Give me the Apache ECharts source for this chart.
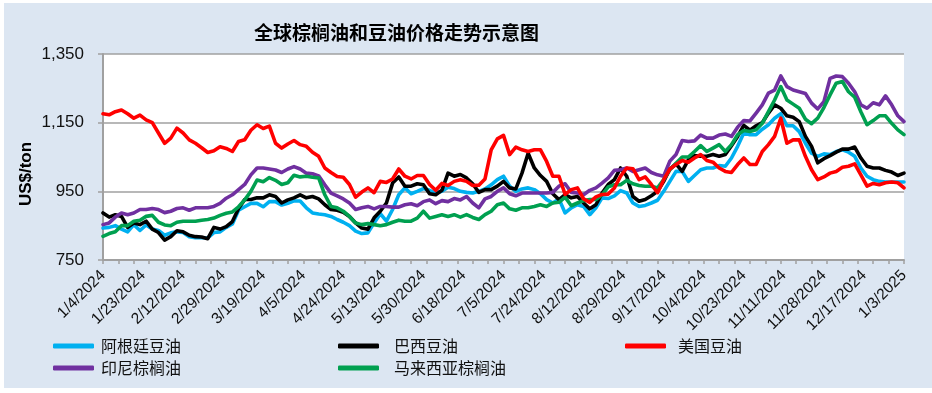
<!DOCTYPE html>
<html>
<head>
<meta charset="utf-8">
<script src="https://cdn.jsdelivr.net/npm/echarts@6/dist/echarts.min.js"></script>
<style>
html,body{margin:0;padding:0;background:#fff;}
#chart{width:932px;height:393px;}
</style>
</head>
<body>
<div id="chart"></div>
<script>
// x axis: business-day categories, labelled every 13th day
const tickLabels = ['1/4/2024','1/23/2024','2/12/2024','2/29/2024','3/19/2024','4/5/2024','4/24/2024','5/13/2024','5/30/2024','6/18/2024','7/5/2024','7/24/2024','8/12/2024','8/29/2024','9/17/2024','10/4/2024','10/23/2024','11/11/2024','11/28/2024','12/17/2024','1/3/2025'];
const dayCount = 261;      // business days shown on the axis
const sampleStep = 2;      // values below are read every 2nd business day

const yTicks = [750, 950, 1150, 1350];

const argentinaSoy = [843,845,850,840,832,853,836,852,840,836,822,829,832,830,818,815,815,814,830,832,845,855,895,905,915,915,905,920,920,910,915,922,922,902,887,884,
882,877,868,860,850,834,827,829,858,885,863,897,940,960,943,950,958,953,945,950,962,958,950,947,945,950,957,969,984,994,965,950,957,960,955,943,926,916,928,887,902,911,906,882,902,931,
929,937,952,945,916,906,909,916,924,950,979,1008,1008,979,996,1013,1018,1018,1025,1023,1047,1081,1120,1115,1115,1131,1144,1163,1176,1141,1141,1124,1090,1061,1052,1059,1057,1066,1071,1064,1052,1018,994,984,979,977,977,977,977];

const brazilSoy = [887,875,882,877,845,858,853,863,840,830,808,818,835,832,822,818,817,812,845,840,847,862,900,926,926,931,931,940,935,916,925,931,940,931,935,928,
911,897,895,889,877,858,843,840,873,892,916,974,992,965,965,972,969,943,940,953,1003,994,999,989,972,947,955,955,965,979,960,957,1003,1061,1018,996,979,943,926,940,931,935,916,899,911,945,
970,984,1018,994,935,921,926,937,950,979,1015,1030,1008,1042,1054,1052,1052,1057,1052,1057,1083,1110,1142,1128,1141,1150,1178,1202,1192,1170,1166,1153,1110,1081,1033,1045,1054,1064,1073,1073,1079,1047,1023,1018,1018,1011,1006,996,1003];

const usSoy = [1176,1173,1182,1187,1176,1163,1172,1158,1150,1120,1090,1105,1134,1120,1100,1090,1077,1063,1068,1080,1075,1066,1095,1100,1128,1144,1133,1140,1090,1076,1088,1098,1086,1081,1064,1052,
1018,1005,993,991,970,933,948,960,946,979,976,986,1015,994,986,996,996,970,953,973,967,979,984,979,967,968,986,1071,1103,1113,1057,1079,1071,1066,1071,1071,1037,994,994,941,955,960,928,918,934,941,
942,960,994,1018,1016,984,992,970,946,984,1015,1028,1040,1035,1047,1057,1040,1035,1018,1008,1005,1028,1047,1028,1028,1066,1086,1110,1163,1090,1100,1100,1052,1013,984,992,1003,1008,1020,1023,1030,998,965,973,969,975,977,975,960];

const indonesiaPalm = [853,858,875,887,882,887,897,897,900,897,888,892,900,902,895,902,902,902,906,915,930,940,955,970,998,1018,1018,1015,1012,1005,1015,1022,1015,1003,1001,995,
969,945,937,928,916,897,902,906,899,906,906,904,904,911,914,908,920,925,914,923,920,929,925,935,916,902,928,935,950,960,943,937,945,945,945,945,945,947,965,972,947,945,940,953,960,974,
989,1011,1013,1018,1008,1013,1018,1005,998,994,1038,1057,1098,1095,1097,1114,1105,1105,1114,1117,1110,1137,1156,1155,1178,1202,1236,1245,1286,1255,1245,1240,1235,1207,1190,1211,1279,1286,1284,1265,1240,1202,1192,1208,1202,1228,1202,1170,1153];

const malaysiaPalm = [819,827,832,850,850,863,866,877,880,860,852,850,860,863,863,863,866,868,872,880,886,890,905,925,950,983,978,990,982,970,975,997,992,994,991,989,
940,906,902,892,877,858,853,856,853,850,853,860,866,863,863,872,892,872,877,882,877,882,875,882,874,868,882,892,911,916,899,895,902,902,906,911,906,916,918,933,908,916,923,926,926,940,
963,969,969,982,972,967,965,965,960,984,1013,1032,1050,1050,1066,1083,1066,1076,1086,1066,1086,1115,1127,1124,1129,1148,1182,1216,1255,1216,1204,1192,1160,1147,1163,1194,1231,1265,1270,1240,1224,1182,1144,1156,1170,1170,1148,1129,1115];

const seriesNames = ['阿根廷豆油','巴西豆油','美国豆油','印尼棕榈油','马来西亚棕榈油'];
const seriesColors = ['#00b0f0','#000000','#ff0000','#7030a0','#00a050'];
const seriesValues = [argentinaSoy, brazilSoy, usSoy, indonesiaPalm, malaysiaPalm];

const categories = Array.from({length: dayCount}, (_, i) => String(i));
const toPairs = vals => vals.map((v, k) => [k * sampleStep, v]);

const drawOrder = [0, 1, 3, 4, 2];
const series = drawOrder.map(k => ({
  name: seriesNames[k],
  type: 'line',
  data: toPairs(seriesValues[k]),
  symbol: 'none',
  showSymbol: false,
  smooth: false,
  lineStyle: {color: seriesColors[k], width: 3.6, join: 'round', cap: 'round'},
  itemStyle: {color: seriesColors[k]},
  z: 2 + drawOrder.indexOf(k),
  animation: false
}));

const legendPos = [
  {left: 48, top: 333, pad: [0,0,0,2]},
  {left: 333, top: 333, pad: [0,0,9,10]},
  {left: 620, top: 333, pad: [0,0,0,7]},
  {left: 48, top: 355, pad: [6,0,0,2]},
  {left: 333, top: 355, pad: [0,0,0,10]}
];
const legends = seriesNames.map((n, k) => ({
  data: [n],
  left: legendPos[k].left,
  top: legendPos[k].top,
  orient: 'horizontal',
  icon: 'roundRect',
  itemWidth: 41,
  itemHeight: 5,
  selectedMode: false,
  textStyle: {fontFamily: '"Noto Sans CJK SC"', fontSize: 16, color: '#111', padding: legendPos[k].pad}
}));

const chart = echarts.init(document.getElementById('chart'), null, {renderer: 'canvas'});
chart.setOption({
  backgroundColor: '#dce6f2',
  animation: false,
  title: {
    text: '全球棕榈油和豆油价格走势示意图',
    left: 249, top: 18,
    textStyle: {fontFamily: '"Noto Sans CJK SC"', fontSize: 19, fontWeight: 'bold', color: '#000'}
  },
  graphic: [
    {type: 'rect', shape: {x: 0, y: 0, width: 932, height: 3}, style: {fill: '#ffffff'}, silent: true},
    {type: 'rect', shape: {x: 0, y: 0, width: 4, height: 393}, style: {fill: '#ffffff'}, silent: true},
    {type: 'rect', shape: {x: 0, y: 388, width: 932, height: 5}, style: {fill: '#ffffff'}, silent: true},
    {type: 'text', x: 26, y: 174, rotation: Math.PI / 2,
      style: {text: 'US$/ton', fontFamily: '"Liberation Sans"', fontSize: 17, fontWeight: 'bold', fill: '#000', textAlign: 'center', textVerticalAlign: 'middle'}}
  ],
  legend: legends,
  grid: {left: 103, right: 28, top: 54, bottom: 133, show: true, backgroundColor: '#ffffff', borderWidth: 0},
  xAxis: {
    type: 'category',
    data: categories,
    boundaryGap: false,
    axisLine: {show: true, lineStyle: {color: '#a0a0a0', width: 2}},
    axisTick: {show: true, interval: 4, length: 4, lineStyle: {color: '#a0a0a0', width: 1.5}},
    axisLabel: {
      interval: 12, rotate: 45, margin: 13,
      fontFamily: '"Liberation Sans"', fontSize: 15.5, color: '#111',
      formatter: (v, idx) => (idx % 13 === 0 ? tickLabels[idx / 13] : '')
    },
    splitLine: {show: false}
  },
  yAxis: {
    type: 'value',
    min: yTicks[0], max: yTicks[yTicks.length - 1], interval: 200,
    axisLine: {show: true, lineStyle: {color: '#a0a0a0', width: 2}},
    axisTick: {show: true, length: 5, lineStyle: {color: '#a0a0a0', width: 1.5}},
    axisLabel: {
      margin: 19, fontFamily: '"Liberation Sans"', fontSize: 17, color: '#111',
      formatter: v => v.toLocaleString('en-US')
    },
    splitLine: {show: true, lineStyle: {color: '#a0a0a0', width: 1.6}}
  },
  series: series
});
</script>
</body>
</html>
